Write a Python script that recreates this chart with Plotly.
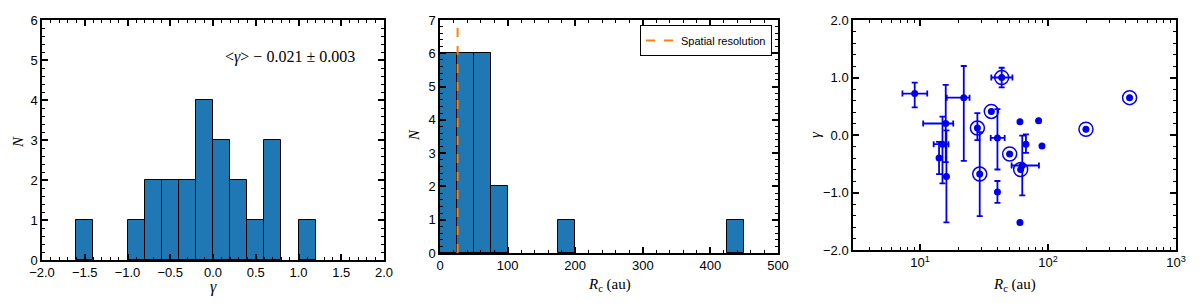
import plotly.graph_objects as go
import numpy as np

# ---- Left panel: histogram of gamma ----
gamma_bin_centers = [-1.5, -0.9, -0.7, -0.5, -0.3, -0.1, 0.1, 0.3, 0.5, 0.7, 1.1]
gamma_counts = [1, 1, 2, 2, 2, 4, 3, 2, 1, 3, 1]
gamma_bin_width = 0.2
mean_text = "&lt;<i>γ</i>&gt; − 0.021 ± 0.003"

# ---- Middle panel: histogram of Rc ----
rc_bin_centers = [12.5, 37.5, 62.5, 87.5, 187.5, 437.5]
rc_counts = [6, 6, 6, 2, 1, 1]
rc_bin_width = 25
spatial_resolution = 26

# ---- Right panel: gamma vs Rc ----
rc = [9.1, 15.9, 15.0, 14.1, 16.1, 22.0, 28.1, 29.3, 36.1, 40.3, 40.3, 43.5,
      50.2, 60.4, 61.2, 63.0, 67.3, 84.5, 89.8, 60.4, 198, 434]
gamma = [0.72, 0.20, -0.16, -0.40, -0.72, 0.65, 0.12, -0.68, 0.41, -0.05, -0.99, 1.00,
         -0.33, 0.23, -0.60, -0.53, -0.16, 0.25, -0.19, -1.52, 0.10, 0.65]
rc_err_lo = [1.8, 5.3, 2.2, 0, 0, 5.8, 0, 0, 0, 4.6, 0, 7.4,
             0, 0, 0, 11, 0, 0, 0, 0, 0, 0]
rc_err_hi = [2.3, 2.3, 1.7, 0, 0, 2.4, 0, 0, 0, 5.6, 0, 9.3,
             0, 0, 0, 22, 0, 0, 0, 0, 0, 0]
gamma_err_lo = [0.24, 0.67, 0.68, 0.28, 0.80, 1.10, 0.21, 0.73, 0, 0.55, 0.19, 0.17,
                0, 0, 0, 0.52, 0.15, 0, 0, 0, 0, 0]
gamma_err_hi = [0.19, 0.67, 0.48, 0.28, 0.80, 0.55, 0.26, 0.73, 0, 0.50, 0.19, 0.17,
                0, 0, 0, 0.52, 0.17, 0, 0, 0, 0, 0]
circled = [False, False, False, False, False, False, True, True, True, False, False, True,
           True, False, True, False, False, False, False, False, True, True]

BAR = "#1f77b4"
BLUE = "#0000ee"
ORANGE = "#ff7f0e"
SANS = "Liberation Sans"
SERIF = "Liberation Serif"

fig = go.Figure()

fig.add_trace(go.Bar(x=gamma_bin_centers, y=gamma_counts, width=gamma_bin_width,
                     marker=dict(color=BAR, line=dict(color="black", width=1)),
                     showlegend=False, xaxis="x", yaxis="y"))

fig.add_trace(go.Bar(x=rc_bin_centers, y=rc_counts, width=rc_bin_width,
                     marker=dict(color=BAR, line=dict(color="black", width=1)),
                     showlegend=False, xaxis="x2", yaxis="y2"))
fig.add_trace(go.Scatter(x=[spatial_resolution, spatial_resolution], y=[0, 7],
                         mode="lines", line=dict(color=ORANGE, width=2, dash="dash"),
                         name="Spatial resolution", showlegend=True,
                         xaxis="x2", yaxis="y2"))

fig.add_trace(go.Scatter(x=rc, y=gamma, mode="markers",
                         marker=dict(color=BLUE, size=7),
                         error_x=dict(type="data", symmetric=False, array=rc_err_hi,
                                      arrayminus=rc_err_lo, color=BLUE, thickness=1.8, width=3),
                         error_y=dict(type="data", symmetric=False, array=gamma_err_hi,
                                      arrayminus=gamma_err_lo, color=BLUE, thickness=1.8, width=3),
                         showlegend=False, xaxis="x3", yaxis="y3"))
cx = [r for r, c in zip(rc, circled) if c]
cy = [g for g, c in zip(gamma, circled) if c]
fig.add_trace(go.Scatter(x=cx, y=cy, mode="markers",
                         marker=dict(symbol="circle-open", size=14, color=BLUE,
                                     line=dict(color=BLUE, width=1.5)),
                         showlegend=False, xaxis="x3", yaxis="y3"))


def ax(**kw):
    d = dict(showline=True, linecolor="black", linewidth=1.5, mirror="ticks",
             ticks="inside", ticklen=6, tickwidth=1.5, tickcolor="black",
             showgrid=False, zeroline=False, automargin=False,
             tickfont=dict(family=SANS, size=13, color="black"),
             minor=dict(ticks="inside", ticklen=3, tickwidth=1, tickcolor="black", showgrid=False))
    for k, v in kw.items():
        if k == "minor":
            d["minor"].update(v)
        else:
            d[k] = v
    return d


# page body has an 8 px margin; figure sized so the page fits the 1200x306 window
OFF = 8
W, H = 1200 - 2 * OFF, 306 - 2 * OFF
def dx(a, b):
    return [(a - OFF) / W, (b - OFF) / W]
def dy(top, bottom):
    return [(H - (bottom - OFF)) / H, (H - (top - OFF)) / H]
def px(x):
    return (x - OFF) / W
def py(y):
    return (H - (y - OFF)) / H

log_minor = [m * 10 ** e for e in range(0, 3) for m in range(2, 10)]

titles = [
    dict(text="<i>γ</i>", x=px(213), y=py(287), angle=0, size=16),
    dict(text="<i>N</i>", x=px(18), y=py(142), angle=-90, size=15),
    dict(text="<i>R</i><sub>c</sub> (au)", x=px(609), y=py(285), angle=0, size=15),
    dict(text="<i>N</i>", x=px(414), y=py(135), angle=-90, size=15),
    dict(text="<i>R</i><sub>c</sub> (au)", x=px(1014), y=py(285), angle=0, size=15),
    dict(text="<i>γ</i>", x=px(815), y=py(135), angle=-90, size=15),
]
annotations = [dict(x=t["x"], y=t["y"], xref="paper", yref="paper", text=t["text"],
                    textangle=t["angle"], showarrow=False, xanchor="center", yanchor="middle",
                    font=dict(family=SERIF, size=t["size"], color="black")) for t in titles]
annotations.append(dict(x=0.9, y=5.07, xref="x", yref="y", text=mean_text, showarrow=False,
                        font=dict(family=SERIF, size=16, color="black")))

fig.update_layout(
    width=W, height=H, margin=dict(l=0, r=0, t=0, b=0, autoexpand=False),
    paper_bgcolor="white", plot_bgcolor="white", bargap=0,
    xaxis=ax(domain=dx(42, 384), anchor="y", range=[-2, 2], tickmode="linear", tick0=-2,
             dtick=0.5, tickformat=".1f", minor=dict(tickmode="linear", tick0=-2, dtick=0.1)),
    yaxis=ax(domain=dy(20, 260), anchor="x", range=[0, 6], tickmode="linear", tick0=0, dtick=1,
             minor=dict(tickmode="linear", tick0=0, dtick=0.2)),
    xaxis2=ax(domain=dx(440, 778), anchor="y2", range=[0, 500], tickmode="linear", tick0=0,
              dtick=100, minor=dict(tickmode="linear", tick0=0, dtick=20)),
    yaxis2=ax(domain=dy(20, 253), anchor="x2", range=[0, 7], tickmode="linear", tick0=0, dtick=1,
              minor=dict(tickmode="linear", tick0=0, dtick=0.2)),
    xaxis3=ax(domain=dx(853, 1176), anchor="y3", type="log", range=[np.log10(3), 3],
              tickmode="array", tickvals=[10, 100, 1000],
              ticktext=["10<sup>1</sup>", "10<sup>2</sup>", "10<sup>3</sup>"],
              minor=dict(tickmode="array", tickvals=log_minor)),
    yaxis3=ax(domain=dy(20, 250), anchor="x3", range=[-2, 2], tickmode="linear", tick0=-2, dtick=1,
              tickformat=".1f", minor=dict(tickmode="linear", tick0=-2, dtick=0.2)),
    legend=dict(x=(772 - OFF) / W, xanchor="right", y=(H - (25 - OFF)) / H, yanchor="top",
                bordercolor="black", borderwidth=1, bgcolor="white",
                font=dict(family=SANS, size=11, color="black"),
                tracegroupgap=0),
    annotations=annotations,
)

fig.write_html("out.html")
